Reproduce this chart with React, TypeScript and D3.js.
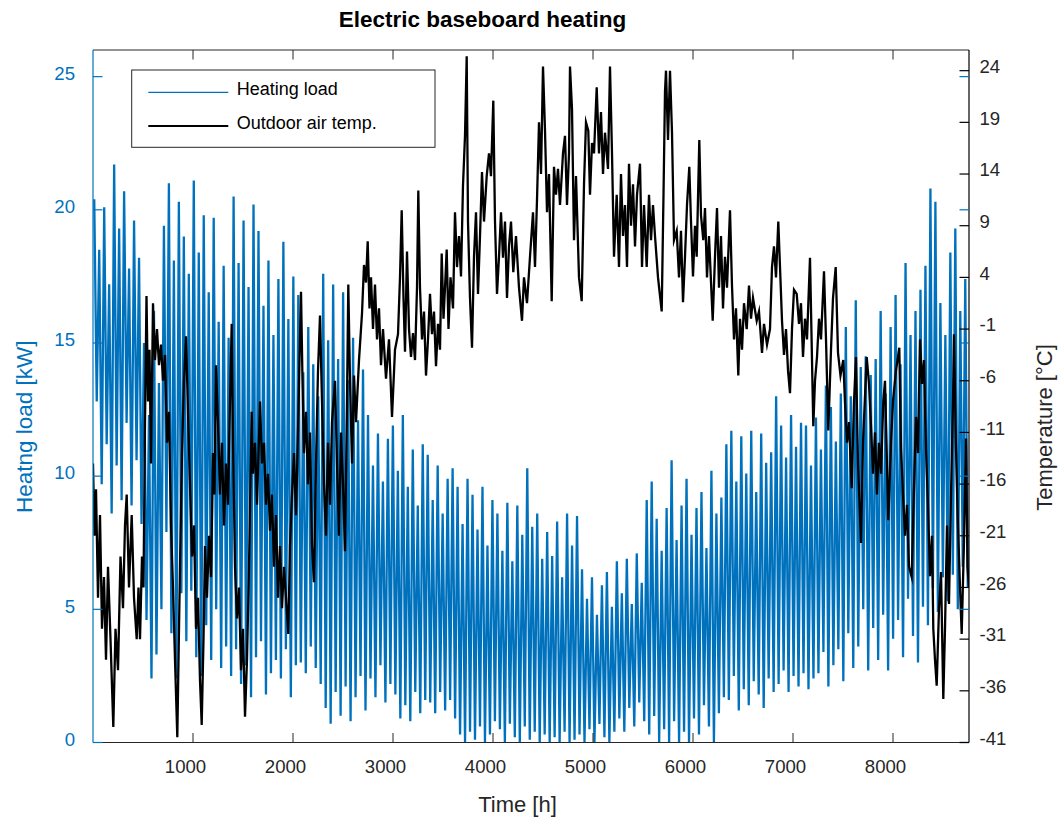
import React from 'react';
import * as d3 from 'd3';

// ---------- DATA ----------
const TOTAL_HOURS = 8760;

// Heating load [kW]: upper / lower envelope of the daily swings, one pair per ~50 h bin
const loadHigh = [
  20.4, 18.5, 20.1, 17.2, 21.7, 19.3, 20.7, 17.8, 19.6, 18.2,
  15.0, 12.3, 16.2, 13.5,
  19.4, 21.0, 18.1, 20.3, 19.0,
  17.6, 21.1, 18.4, 19.8, 16.9,
  19.7, 15.8, 17.9, 15.2,
  20.5, 18.0, 19.6, 17.1, 20.2,
  19.2, 16.4, 18.1, 15.3,
  17.4, 18.8, 15.9, 17.5,
  16.8, 13.9, 15.6, 14.2, 13.0,
  17.6, 15.1, 17.2, 14.4,
  16.9, 13.6, 15.2, 12.1, 14.0,
  12.3, 10.4, 11.6, 9.8, 11.4,
  11.9, 10.2, 12.3, 9.6, 11.0, 8.9, 11.2,
  10.8, 9.1, 10.4, 8.6, 9.9, 10.3,
  9.6, 8.2, 9.9,
  9.3, 8.0, 9.6, 7.4, 9.1,
  8.6, 7.2, 9.0, 6.8, 8.9, 7.8, 10.3, 8.1,
  8.6, 6.9, 7.9, 7.0, 8.3, 6.2, 8.6, 7.4, 8.5,
  6.5, 5.4, 6.2, 4.8, 5.9, 6.4, 5.1,
  6.8, 5.6, 6.9, 5.2, 7.1, 6.0, 9.1, 9.8,
  8.4, 7.2, 8.8, 10.6, 7.6, 8.9,
  9.9, 7.8, 8.8, 9.4, 7.3, 10.2, 8.6, 9.2,
  11.2, 11.7, 9.8, 11.5, 10.1, 11.7, 9.4, 11.6, 10.5, 10.9,
  13.0, 11.9, 10.7, 12.3, 11.1, 12.0, 11.9, 10.4,
  12.2, 11.0, 13.4, 12.6, 11.3, 13.1,
  15.6, 13.0, 16.6, 14.1, 14.5,
  13.8, 14.4, 16.2, 13.1, 15.6,
  16.8, 14.2, 18.0, 15.3, 16.2, 17.0,
  17.9, 20.8, 20.3, 16.5,
  15.3, 18.4, 19.3, 16.2, 17.4,
];

const loadLow = [
  12.8, 9.7, 11.2, 8.6, 10.4, 9.1, 12.0, 8.9, 10.6, 8.2,
  4.6, 2.4, 3.3, 5.0,
  7.9, 4.1, 2.4, 5.6, 3.8,
  5.7, 3.2, 2.5, 4.4, 3.1,
  5.0, 2.8, 3.6, 2.5,
  3.5, 2.2, 2.9, 1.7, 3.2,
  3.8, 1.8, 2.6, 3.1,
  2.4, 3.5, 1.7, 2.9,
  3.0, 2.6, 3.6, 2.8, 2.2,
  1.3, 0.7, 1.9, 1.0,
  2.1, 0.8, 1.7, 2.5, 1.2,
  2.4, 1.7, 2.9, 1.5, 2.2,
  1.8, 0.9, 1.4, 0.8, 1.9, 1.1, 1.6,
  1.5, 1.1, 1.9, 1.2, 1.6, 0.9,
  0.3, 0.0, 0.4,
  0.1, 0.6, 0.0, 0.3, 0.8,
  0.5, 0.0, 0.7, 0.2, 0.0, 0.6, 0.1, 0.4,
  0.0, 0.3, 0.0, 0.2, 0.0, 0.4, 0.0, 0.1, 0.3,
  0.0, 0.5, 0.0, 0.7, 0.2, 0.0, 0.4,
  0.9, 0.4, 1.3, 0.6, 1.5, 0.8, 0.3, 1.0,
  0.0, 0.5, 0.0, 0.8, 0.0, 0.4,
  0.0, 0.9, 0.3, 1.4, 0.6, 0.0, 1.1, 1.7,
  1.6, 2.5, 1.2, 2.0, 1.4, 2.3, 1.8, 1.3, 2.4, 1.9,
  2.2, 2.7, 1.9, 2.5, 2.1, 2.6, 2.0, 2.4,
  2.6, 3.4, 2.1, 2.9, 3.5, 2.3,
  4.1, 2.8, 3.6, 5.0, 2.7,
  4.3, 3.1, 4.8, 2.7, 3.9,
  4.6, 3.2, 5.4, 4.0, 3.0, 5.1,
  4.4, 5.8, 4.9, 6.2,
  5.3, 6.3, 5.0, 6.6, 5.8,
];

// Outdoor air temperature [°C]: [hour, value]
const tempSeries: [number, number][] = [
  [0, -14], [15, -21], [30, -16.5], [50, -27], [70, -19], [90, -30], [110, -25], [130, -33],
  [150, -24], [175, -31], [203, -39.5], [225, -30], [250, -34], [275, -23], [300, -28], [320, -20],
  [337, -17], [360, -26], [387, -19], [410, -27], [437, -31], [455, -26], [470, -31], [490, -23],
  [505, -26], [520, -10], [535, 2.2], [550, -8], [565, -3], [580, -14], [600, 1.5], [620, -4],
  [640, -1], [660, -4.5], [680, -2.5], [700, -6], [720, -3.5], [740, -12], [760, -9], [780, -20],
  [800, -26], [820, -33], [843, -40.5], [860, -30], [875, -21], [890, -13], [910, -6], [930, -1.7],
  [950, -9], [970, -16], [990, -23], [1010, -20], [1030, -30], [1050, -27], [1070, -35], [1087, -39.3],
  [1105, -31], [1120, -22], [1140, -27], [1160, -21], [1180, -25], [1200, -13], [1215, -17], [1230, -4.5],
  [1250, -10], [1270, -17], [1290, -12], [1310, -20], [1330, -14], [1350, -18], [1370, -8], [1387, -0.5],
  [1400, -12], [1420, -24], [1440, -29], [1460, -26], [1480, -34], [1500, -30], [1520, -38.5], [1540, -33],
  [1560, -24], [1587, -9], [1600, -15], [1620, -12], [1640, -18], [1670, -8], [1690, -14], [1710, -12],
  [1730, -18], [1750, -15], [1770, -20.5], [1790, -17], [1810, -24], [1830, -19], [1850, -27], [1870, -22],
  [1890, -28], [1910, -24], [1930, -27], [1953, -30.5], [1970, -22], [1990, -17], [2010, -13], [2030, -19],
  [2050, -11], [2065, -4], [2080, 2.6], [2095, -6], [2110, -13], [2130, -9], [2150, -16], [2170, -11],
  [2190, -22], [2210, -25.5], [2230, -14], [2250, -5], [2270, 0.3], [2290, -8], [2310, -16], [2330, -21],
  [2350, -12], [2370, -18], [2390, -10], [2420, -6], [2440, -14], [2460, -21], [2480, -11], [2500, -16],
  [2520, -22.5], [2540, -8], [2553, 3.3], [2570, -6], [2590, -14], [2610, -5.5], [2630, -10], [2660, -4],
  [2690, 0.5], [2710, 5.2], [2730, 3.5], [2747, 7.5], [2765, 1], [2780, 4], [2800, -1], [2820, 3.3],
  [2840, -2], [2860, 1], [2880, -4.5], [2900, -1], [2930, -5.8], [2960, -2], [2990, -9.5], [3020, -3],
  [3050, -1.5], [3070, 4], [3087, 10.5], [3105, 2], [3120, -3.2], [3140, 6.5], [3160, -1], [3180, -3.7],
  [3200, -1.4], [3220, -4], [3240, 3], [3253, 12.4], [3270, 3], [3290, -2], [3310, 0.7], [3330, -5.5],
  [3350, -2], [3370, 2.4], [3390, -1.5], [3410, 0.7], [3430, -4.6], [3450, -0.5], [3470, -3], [3487, 6.3],
  [3505, 0], [3520, 3], [3537, 6.7], [3555, -1], [3575, 4], [3600, 1], [3620, 10.3], [3640, 5],
  [3660, 8], [3680, 4.1], [3700, 12.9], [3720, 17.7], [3737, 25.4], [3750, 9.4], [3770, 2], [3790, -2.8],
  [3810, 6], [3830, 10.3], [3850, 2.4], [3870, 8], [3890, 14.2], [3910, 9.4], [3937, 13.8], [3960, 16],
  [3980, 13.8], [4003, 21.1], [4020, 9.4], [4040, 2.4], [4060, 6], [4080, 10.3], [4100, 5.9], [4120, 9.4],
  [4140, 2], [4160, 7], [4180, 9.4], [4203, 4.5], [4230, 8], [4260, 3], [4290, -0.2], [4310, 4],
  [4340, 1.5], [4370, 6], [4400, 10.3], [4420, 5], [4440, 11.5], [4460, 19], [4480, 14], [4500, 24.4],
  [4520, 18.2], [4540, 10.3], [4560, 14], [4587, 1.7], [4610, 14.7], [4630, 12], [4650, 14.5], [4670, 11],
  [4700, 16], [4720, 17.7], [4740, 11], [4760, 16], [4770, 24.4], [4790, 20.3], [4810, 7.6], [4830, 13.8],
  [4860, 4], [4887, 1.7], [4910, 13], [4930, 19], [4953, 18.2], [4970, 12], [4990, 17], [5010, 16],
  [5037, 22.4], [5060, 16], [5080, 20], [5100, 14], [5120, 18], [5150, 14.5], [5170, 24.4], [5190, 16],
  [5210, 6], [5237, 12], [5260, 5], [5280, 14], [5300, 8], [5320, 11], [5340, 5], [5360, 15],
  [5380, 9], [5400, 13], [5420, 7], [5440, 12], [5470, 15], [5490, 5], [5510, 11], [5537, 5],
  [5560, 12], [5580, 7.6], [5600, 11], [5620, 8], [5650, 4], [5687, 0.7], [5705, 12], [5720, 22],
  [5730, 24], [5750, 17.3], [5770, 24], [5790, 18], [5810, 7.6], [5837, 8.5], [5860, 4], [5880, 8.5],
  [5900, 1.6], [5920, 6], [5940, 11], [5963, 14.7], [5980, 9.4], [6000, 4.1], [6020, 9], [6037, 6],
  [6063, 17.3], [6080, 10], [6103, 7.6], [6120, 10.7], [6140, 4], [6160, 8], [6197, -0.2], [6220, 6],
  [6240, 10.7], [6260, 3], [6280, 8], [6300, 1], [6320, 6], [6340, 3], [6370, 10.5], [6390, 3.2],
  [6410, -2], [6430, 1], [6453, -5.5], [6470, 0], [6490, -3], [6510, 1.5], [6537, -1], [6560, 3.2],
  [6580, 0], [6600, 2], [6637, -0.2], [6660, 0.7], [6690, -3.3], [6710, -0.5], [6740, -2.5], [6770, -1],
  [6790, 5], [6810, 7], [6830, 4], [6853, 9.4], [6870, 5], [6890, -0.2], [6910, -3.5], [6930, -1],
  [6950, -5], [6970, -7.2], [6990, -1], [7010, 2.8], [7037, 2.4], [7060, -0.5], [7080, 1.5], [7100, -3.7],
  [7120, 0], [7140, -2], [7170, 5.9], [7190, -4], [7203, -10.4], [7220, -6], [7240, -3.7], [7260, 0],
  [7280, -2], [7310, 4.6], [7330, -2], [7353, -10.8], [7380, -3], [7400, 2], [7427, 5], [7450, -3.3],
  [7475, -5.5], [7503, -4], [7520, -8.1], [7540, -12], [7560, -10], [7587, -16.4], [7610, -8], [7630, -3.7],
  [7650, -14], [7680, -21.7], [7700, -12], [7737, -3.7], [7760, -6.3], [7780, -10.4], [7800, -15], [7820, -11],
  [7840, -17], [7860, -12], [7880, -15], [7903, -8], [7920, -6], [7953, -19.5], [7980, -12], [8000, -8],
  [8030, -5], [8063, -2.8], [8080, -12.6], [8100, -17], [8120, -21], [8140, -18], [8160, -24], [8187, -25],
  [8210, -16.4], [8230, -9.5], [8250, -13], [8270, -2], [8290, -6.3], [8310, -4], [8330, -12.6], [8350, -18],
  [8370, -24.9], [8390, -21], [8403, -30], [8420, -33], [8437, -35.5], [8460, -28], [8480, -24.5], [8503, -36.8],
  [8520, -30], [8540, -20], [8560, -27.6], [8580, -17], [8600, -8], [8610, -1.5], [8630, -12.6], [8650, -20],
  [8670, -26], [8687, -30.5], [8710, -21.5], [8730, -11.6], [8745, -24], [8760, -26],
];

const timeTicks = [1000, 2000, 3000, 4000, 5000, 6000, 7000, 8000];
const loadTicks = [0, 5, 10, 15, 20, 25];
const tempTicks = [-41, -36, -31, -26, -21, -16, -11, -6, -1, 4, 9, 14, 19, 24];

const titleText = 'Electric baseboard heating';
const xLabelText = 'Time [h]';
const yLeftLabelText = 'Heatng load [kW]';
const yRightLabelText = 'Temperature [°C]';
const legendLabels = ['Heating load', 'Outdoor air temp.'];

// ---------- CHART ----------
const BLUE = '#0072BD';
const DARK = '#262626';
const FONT = '"Liberation Sans", Arial, Helvetica, sans-serif';

export default function App() {
  const W = 1058;
  const H = 822;
  const L = 93;
  const R = 969;
  const T = 50;
  const B = 742.5;
  const TICK = 9.5;

  const x = d3.scaleLinear().domain([0, TOTAL_HOURS]).range([L, R]);
  const yL = d3.scaleLinear().domain([0, 26]).range([B, T]);
  const yR = d3.scaleLinear().domain([-41, 26]).range([B, T]);

  const binW = TOTAL_HOURS / loadHigh.length;
  const loadPts: [number, number][] = [];
  loadHigh.forEach((hi, i) => {
    loadPts.push([i * binW + binW * 0.25, hi]);
    loadPts.push([i * binW + binW * 0.75, loadLow[i]]);
  });

  const loadPath = d3
    .line<[number, number]>()
    .x((d) => x(d[0]))
    .y((d) => yL(d[1]))(loadPts) as string;

  const tempPath = d3
    .line<[number, number]>()
    .x((d) => x(d[0]))
    .y((d) => yR(d[1]))(tempSeries) as string;

  return (
    <svg
      width={W}
      height={H}
      style={{ position: 'absolute', left: 0, top: 0, background: '#fff' }}
      fontFamily={FONT}
    >
      <rect x={0} y={0} width={W} height={H} fill="#fff" />
      <defs>
        <clipPath id="plotClip">
          <rect x={L} y={T} width={R - L} height={B - T} />
        </clipPath>
      </defs>

      {/* data */}
      <g clipPath="url(#plotClip)">
        <path d={loadPath} fill="none" stroke={BLUE} strokeWidth={2.3} strokeLinejoin="miter" strokeMiterlimit={20} />
        <path d={tempPath} fill="none" stroke="#000" strokeWidth={2.3} strokeLinejoin="miter" strokeMiterlimit={8} />
      </g>

      {/* box lines */}
      <line x1={L} x2={R} y1={T} y2={T} stroke={DARK} strokeWidth={1} />
      <line x1={L} x2={R} y1={B} y2={B} stroke={DARK} strokeWidth={1} />
      <line x1={R} x2={R} y1={T} y2={B} stroke="#000" strokeWidth={1.2} />
      <line x1={L} x2={L} y1={T} y2={B} stroke={BLUE} strokeWidth={1.2} />

      {/* x ticks */}
      {timeTicks.map((t) => (
        <g key={'xt' + t}>
          <line x1={x(t)} x2={x(t)} y1={B} y2={B - TICK} stroke={DARK} strokeWidth={1} />
          <line x1={x(t)} x2={x(t)} y1={T} y2={T + TICK} stroke={DARK} strokeWidth={1} />
          <text x={x(t) - 7.5} y={773} textAnchor="middle" fontSize={18.6} fill={DARK}>
            {t}
          </text>
        </g>
      ))}

      {/* left ticks (load) */}
      {loadTicks.map((t) => (
        <g key={'yl' + t}>
          <line x1={L} x2={L + TICK} y1={yL(t)} y2={yL(t)} stroke={BLUE} strokeWidth={1.2} />
          <line x1={R} x2={R - TICK} y1={yL(t)} y2={yL(t)} stroke={BLUE} strokeWidth={1.2} />
          <text x={75} y={yL(t) + 3.2} textAnchor="end" fontSize={18.6} fill={BLUE}>
            {t}
          </text>
        </g>
      ))}

      {/* right ticks (temperature) */}
      {tempTicks.map((t) => (
        <g key={'yr' + t}>
          <line x1={R} x2={R - TICK} y1={yR(t)} y2={yR(t)} stroke="#000" strokeWidth={1.2} />
          <text x={979.5} y={yR(t) + 2.3} textAnchor="start" fontSize={18.6} fill={DARK}>
            {t}
          </text>
        </g>
      ))}

      {/* titles */}
      <text x={482.5} y={27} textAnchor="middle" fontSize={22.5} fontWeight="bold" fill="#000">
        {titleText}
      </text>
      <text x={517.5} y={812} textAnchor="middle" fontSize={22} fill={DARK}>
        {xLabelText}
      </text>
      <text
        transform="translate(32,426.7) rotate(-90)"
        textAnchor="middle"
        fontSize={22.5}
        fill={BLUE}
      >
        {yLeftLabelText}
      </text>
      <text
        transform="translate(1052,427.5) rotate(-90)"
        textAnchor="middle"
        fontSize={22}
        fill={DARK}
      >
        {yRightLabelText}
      </text>

      {/* legend */}
      <g>
        <rect x={131.7} y={70} width={303.3} height={77.3} fill="#fff" stroke={DARK} strokeWidth={1} />
        <line x1={148.3} x2={228.3} y1={92.3} y2={92.3} stroke={BLUE} strokeWidth={1.3} />
        <line x1={148.3} x2={228.3} y1={126} y2={126} stroke="#000" strokeWidth={1.8} />
        <text x={236.7} y={94.5} fontSize={18} fill="#000">
          {legendLabels[0]}
        </text>
        <text x={236.7} y={128.5} fontSize={18} fill="#000">
          {legendLabels[1]}
        </text>
      </g>
    </svg>
  );
}
